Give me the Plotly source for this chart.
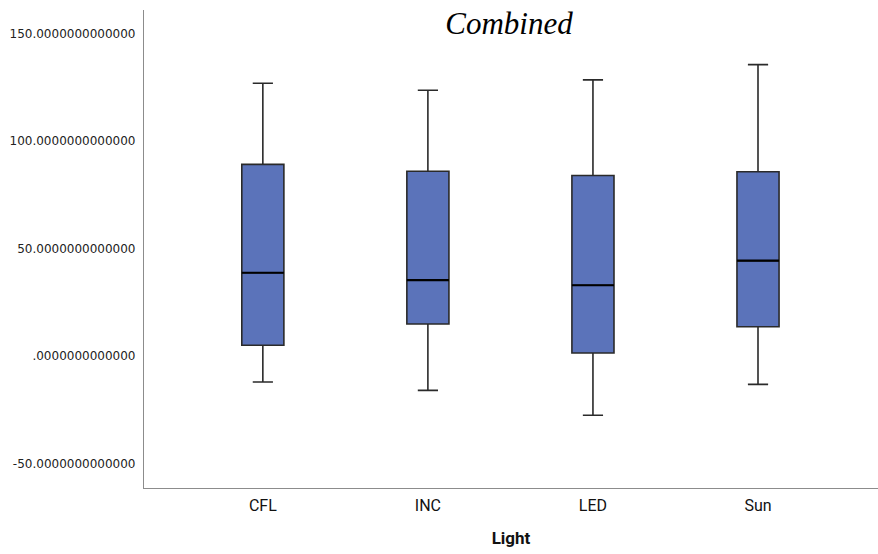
import plotly.graph_objects as go

categories = ["CFL", "INC", "LED", "Sun"]
upper_whisker = [126.8, 123.6, 128.4, 135.5]
q3_values = [89.1, 85.9, 83.9, 85.7]
medians = [38.7, 35.3, 32.9, 44.3]
q1_values = [5.0, 14.9, 1.4, 13.6]
lower_whisker = [-12.1, -16.0, -27.6, -13.2]

y_tick_vals = [-50, 0, 50, 100, 150]
y_tick_text = ["-50.0000000000000", ".0000000000000", "50.0000000000000",
               "100.0000000000000", "150.0000000000000"]

box_w = 0.255
fill = "#5B73BA"

fig = go.Figure()
fig.add_trace(go.Box(
    x=categories,
    q1=q1_values, median=medians, q3=q3_values,
    lowerfence=lower_whisker, upperfence=upper_whisker,
    width=box_w, whiskerwidth=0.48,
    fillcolor=fill,
    line=dict(color="#2a2a2a", width=1.6),
    boxpoints=False, hoverinfo="skip", showlegend=False,
))

shapes = []
for i, m in enumerate(medians):
    shapes.append(dict(type="line", xref="x", yref="y",
                       x0=i - box_w / 2, x1=i + box_w / 2, y0=m, y1=m,
                       line=dict(color="#000000", width=2.2)))

fig.update_layout(
    width=878, height=554,
    margin=dict(l=144, r=0, t=10, b=66),
    paper_bgcolor="white", plot_bgcolor="white",
    shapes=shapes,
    title=dict(text="<i>Combined</i>", x=509 / 878, xanchor="center",
               y=1 - 23 / 554, yanchor="middle", yref="container",
               font=dict(family="Liberation Serif", size=31, color="#000000")),
    xaxis=dict(type="category", range=[-0.72, 3.727],
               showline=True, linecolor="#8c8c8c", linewidth=1.2,
               showgrid=False, zeroline=False,
               ticks="outside", ticklen=3, tickcolor="rgba(0,0,0,0)",
               tickfont=dict(family="Roboto", size=16, color="#111111"),
               title=dict(text="<b>Light</b>", standoff=17,
                          font=dict(family="Roboto", size=17, color="#111111"))),
    yaxis=dict(range=[-61.4, 160.9],
               tickvals=y_tick_vals, ticktext=y_tick_text,
               showline=True, linecolor="#8c8c8c", linewidth=1.2,
               showgrid=False, zeroline=False,
               ticks="outside", ticklen=5, tickcolor="rgba(0,0,0,0)",
               tickfont=dict(family="DejaVu Sans", size=12, color="#222222")),
)

fig.write_html("out.html")
